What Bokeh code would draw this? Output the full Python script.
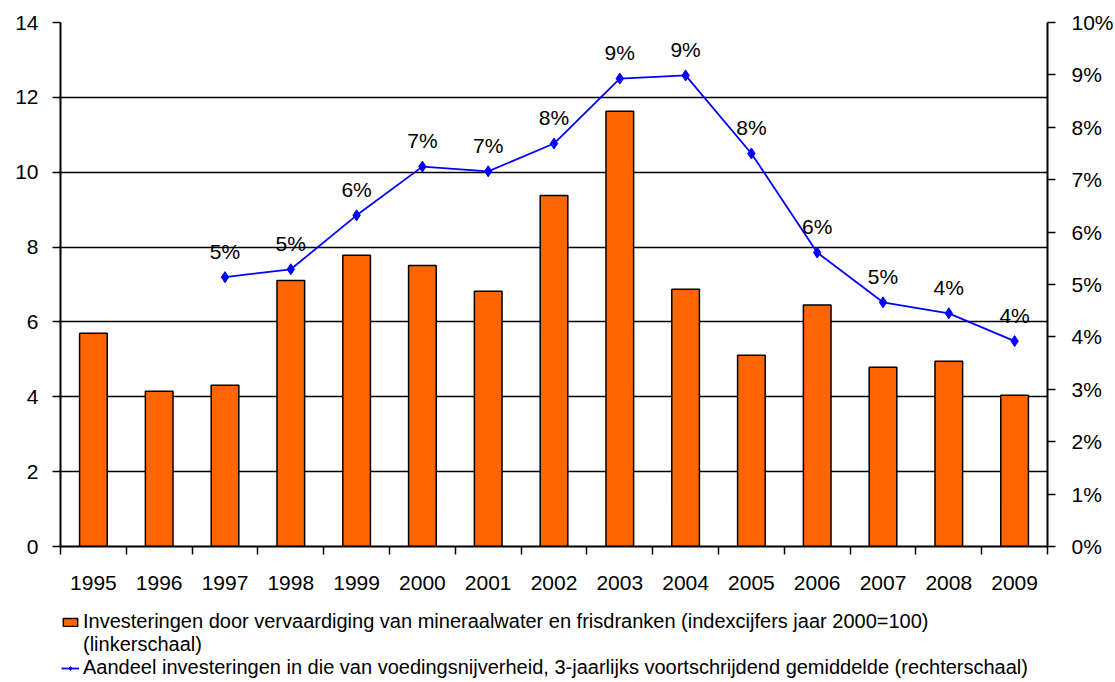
from bokeh.plotting import figure
from bokeh.layouts import column
from bokeh.models import (Range1d, LinearAxis, FixedTicker, ColumnDataSource,
                          Legend, LegendItem, NumeralTickFormatter)
from bokeh.core.properties import value
from bokeh.embed import file_html
from bokeh.resources import INLINE

years = [1995, 1996, 1997, 1998, 1999, 2000, 2001, 2002, 2003, 2004, 2005, 2006, 2007, 2008, 2009]
investeringen = [5.70, 4.15, 4.31, 7.11, 7.78, 7.51, 6.82, 9.38, 11.63, 6.87, 5.11, 6.45, 4.79, 4.95, 4.04]
line_years = [1997, 1998, 1999, 2000, 2001, 2002, 2003, 2004, 2005, 2006, 2007, 2008, 2009]
aandeel = [0.0514, 0.0529, 0.0632, 0.0725, 0.0716, 0.0769, 0.0893, 0.0899, 0.0750, 0.0561, 0.0466, 0.0445, 0.0392]
left_ticks = [0, 2, 4, 6, 8, 10, 12, 14]
right_ticks = [0.0, 0.01, 0.02, 0.03, 0.04, 0.05, 0.06, 0.07, 0.08, 0.09, 0.10]
legend_labels = ["Investeringen door vervaardiging van mineraalwater en frisdranken (indexcijfers jaar 2000=100)",
                 "(linkerschaal)",
                 "Aandeel investeringen in die van voedingsnijverheid, 3-jaarlijks voortschrijdend gemiddelde (rechterschaal)"]

FONT = "Liberation Sans"
FS = "21px"
BAR_COLOR = "#FF6600"
LINE_COLOR = "#0000FF"

p = figure(frame_width=987, frame_height=524, output_backend="svg", toolbar_location=None,
           x_range=Range1d(years[0] - 0.5, years[-1] + 0.5),
           y_range=Range1d(0, 14), min_border_left=60, min_border_right=0,
           min_border_top=22, min_border_bottom=60)
p.outline_line_color = None
p.extra_y_ranges = {"pct": Range1d(0, 0.10)}

bars = ColumnDataSource(dict(x=years, top=investeringen))
p.vbar(x="x", top="top", width=0.42, source=bars, fill_color=BAR_COLOR,
       line_color="black", line_width=1.5)

lsrc = ColumnDataSource(dict(x=line_years, y=aandeel,
                             lab=["%d%%" % round(v * 100) for v in aandeel]))
p.line("x", "y", source=lsrc, y_range_name="pct", line_color=LINE_COLOR, line_width=1.8)
p.scatter("x", "y", source=lsrc, y_range_name="pct", marker="diamond", size=11,
          fill_color=LINE_COLOR, line_color=LINE_COLOR)
p.text("x", "y", text="lab", source=lsrc, y_range_name="pct", text_align="center",
       text_baseline="middle", y_offset=-26, text_font=value(FONT), text_font_size=FS,
       text_color="black")

# left axis
ya = p.yaxis[0]
ya.ticker = FixedTicker(ticks=left_ticks, minor_ticks=[])
ya.axis_line_width = 2
ya.major_tick_line_width = 1.5
ya.major_tick_out = 8
ya.major_tick_in = 0
ya.minor_tick_line_color = None
ya.major_label_standoff = 14
ya.major_label_text_font = FONT
ya.major_label_text_font_size = FS
ya.major_label_text_color = "black"

# right axis
ra = LinearAxis(y_range_name="pct", ticker=FixedTicker(ticks=right_ticks, minor_ticks=[]),
                formatter=NumeralTickFormatter(format="0%"))
ra.axis_line_width = 2
ra.major_tick_line_width = 1.5
ra.major_tick_out = 8
ra.major_tick_in = 0
ra.minor_tick_line_color = None
ra.major_label_standoff = 16
ra.major_label_text_font = FONT
ra.major_label_text_font_size = FS
ra.major_label_text_color = "black"
p.add_layout(ra, "right")

# x axis
xa = p.xaxis[0]
xa.ticker = FixedTicker(ticks=years, minor_ticks=[y - 0.5 for y in years] + [years[-1] + 0.5])
xa.major_label_overrides = {y: str(y) for y in years}
xa.axis_line_width = 2
xa.major_tick_line_color = None
xa.major_tick_out = 0
xa.major_tick_in = 0
xa.minor_tick_line_width = 1.5
xa.minor_tick_out = 8
xa.minor_tick_in = 0
xa.major_label_standoff = 21
xa.major_label_text_font = FONT
xa.major_label_text_font_size = FS
xa.major_label_text_color = "black"

p.xgrid.grid_line_color = None
p.ygrid.ticker = FixedTicker(ticks=left_ticks)
p.ygrid.grid_line_color = "black"
p.ygrid.grid_line_width = 1.5

# legend panel (proxy renderers lie outside the visible range)
q = figure(width=1112, height=74, output_backend="svg", toolbar_location=None,
           x_range=Range1d(0, 1), y_range=Range1d(0, 1), min_border=0,
           x_axis_location=None, y_axis_location=None)
q.grid.visible = False
q.outline_line_color = None
kb = q.vbar(x=[-5], top=[-5], width=0.5, fill_color=BAR_COLOR, line_color="black", line_width=1.5)
kn = q.line(x=[-5, -4], y=[-5, -4], line_alpha=0)
kl = q.line(x=[-5, -4], y=[-5, -4], line_color=LINE_COLOR, line_width=1.8)
ks = q.scatter(x=[-5], y=[-5], marker="diamond", size=11, fill_color=LINE_COLOR, line_color=LINE_COLOR)
legend = Legend(items=[
    LegendItem(label=legend_labels[0], renderers=[kb]),
    LegendItem(label=legend_labels[1], renderers=[kn]),
    LegendItem(label=legend_labels[2], renderers=[kl, ks]),
], location=(1, 1), orientation="vertical", border_line_color=None,
    background_fill_alpha=0, label_text_font=FONT, label_text_font_size="20px",
    label_text_color="black", glyph_width=18, glyph_height=10, label_height=23,
    label_standoff=4, spacing=0, padding=0, margin=0)
q.add_layout(legend, "center")

layout = column(p, q, spacing=0)
open("out.html", "w").write(file_html(layout, INLINE))
